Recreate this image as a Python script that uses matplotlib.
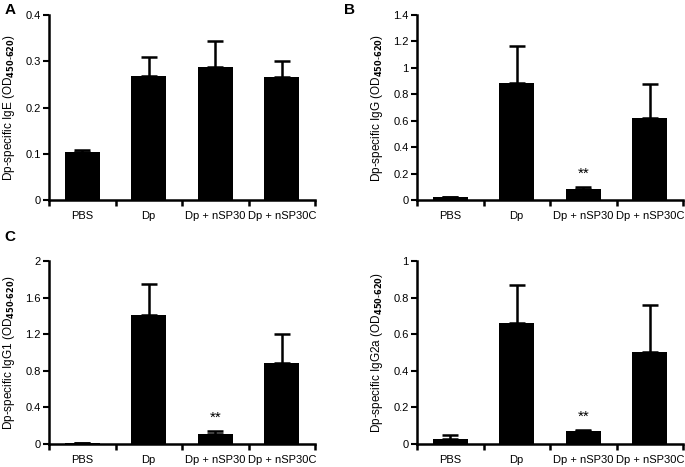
import matplotlib
matplotlib.use("Agg")
import matplotlib.pyplot as plt
from matplotlib.ticker import FixedLocator

plt.rcParams['font.family'] = ['Liberation Sans', 'DejaVu Sans']

categories = ["PBS", "Dp", "Dp + nSP30", "Dp + nSP30C"]

ige_mean = [0.103, 0.268, 0.288, 0.266]
ige_err = [0.005, 0.042, 0.055, 0.034]

igg_mean = [0.020, 0.885, 0.080, 0.620]
igg_err = [0.005, 0.280, 0.015, 0.255]

igg1_mean = [0.010, 1.410, 0.110, 0.880]
igg1_err = [0.005, 0.340, 0.035, 0.320]

igg2a_mean = [0.030, 0.660, 0.070, 0.505]
igg2a_err = [0.020, 0.210, 0.008, 0.255]

panels = [
    dict(mean=ige_mean, err=ige_err, ymax=0.4, ticks=[0, 0.1, 0.2, 0.3, 0.4],
         ticklabels=["0", "0.1", "0.2", "0.3", "0.4"], name="IgE", letter="A",
         stars=False, rect=[49, 15, 315, 200], lpos=(5, 3)),
    dict(mean=igg_mean, err=igg_err, ymax=1.4, ticks=[0, 0.2, 0.4, 0.6, 0.8, 1.0, 1.2, 1.4],
         ticklabels=["0", "0.2", "0.4", "0.6", "0.8", "1", "1.2", "1.4"], name="IgG", letter="B",
         stars=True, rect=[417, 15, 683, 200], lpos=(344, 3)),
    dict(mean=igg1_mean, err=igg1_err, ymax=2.0, ticks=[0, 0.4, 0.8, 1.2, 1.6, 2.0],
         ticklabels=["0", "0.4", "0.8", "1.2", "1.6", "2"], name="IgG1", letter="C",
         stars=True, rect=[49, 261, 315, 444], lpos=(4, 230)),
    dict(mean=igg2a_mean, err=igg2a_err, ymax=1.0, ticks=[0, 0.2, 0.4, 0.6, 0.8, 1.0],
         ticklabels=["0", "0.2", "0.4", "0.6", "0.8", "1"], name="IgG2a", letter=None,
         stars=True, rect=[417, 261, 683, 444], lpos=None),
]

W, H = 685, 467
fig = plt.figure(figsize=(W / 100, H / 100), dpi=100)

for p in panels:
    x0, y0, x1, y1 = p["rect"]
    ax = fig.add_axes([x0 / W, 1 - y1 / H, (x1 - x0) / W, (y1 - y0) / H])
    xs = list(range(len(categories)))
    ax.bar(xs, p["mean"], width=0.53, color="black", zorder=2)
    ax.errorbar(xs, p["mean"], yerr=[[0] * 4, p["err"]], fmt="none", ecolor="black",
                elinewidth=1.8, capsize=6, capthick=1.8, zorder=1)
    ax.set_xlim(-0.5, 3.5)
    ax.set_ylim(0, p["ymax"])
    ax.set_yticks(p["ticks"])
    ax.set_yticklabels(p["ticklabels"], fontsize=8)
    ax.set_xticks(xs)
    ax.set_xticklabels(categories, fontsize=8)
    ax.tick_params(axis="x", which="major", length=0, pad=8)
    ax.xaxis.set_minor_locator(FixedLocator([-0.5, 0.5, 1.5, 2.5, 3.5]))
    ax.tick_params(axis="x", which="minor", length=4, width=1.8, direction="out")
    ax.tick_params(axis="y", which="major", length=4, width=1.5, direction="out", pad=2)
    for s in ["top", "right"]:
        ax.spines[s].set_visible(False)
    for s in ["left", "bottom"]:
        ax.spines[s].set_linewidth(1.8)
    ax.set_ylabel("Dp-specific " + p["name"] + r" (OD$_{\mathbf{450\text{-}620}}$)", fontsize=8.5, labelpad=6)
    if p["stars"]:
        top = p["mean"][2] + p["err"][2]
        ax.text(2, top + 0.035 * p["ymax"], "**", ha="center", va="bottom", fontsize=11)
    if p["letter"]:
        lx, ly = p["lpos"]
        fig.text(lx / W, 1 - ly / H, p["letter"], fontsize=11, fontweight="bold",
                 ha="left", va="top")

fig.savefig("out.png", dpi=100)
